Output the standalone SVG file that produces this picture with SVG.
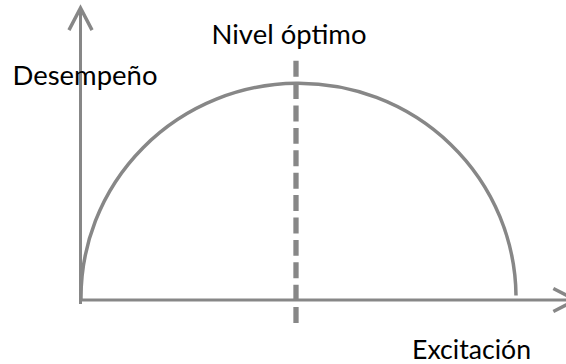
<svg xmlns="http://www.w3.org/2000/svg" width="566" height="364" viewBox="0 0 566 364">
  <style>
    .ax { stroke: #878787; stroke-width: 3; fill: none; }
    .curve { stroke: #878787; stroke-width: 3.5; fill: none; }
    .opt { stroke: #878787; stroke-width: 5.3; fill: none; stroke-dasharray: 15.95 6.45; }
    .lbl { font-family: Lato, "Open Sans", sans-serif; font-size: 26.5px; fill: #000; }
  </style>
  <defs>
    <marker id="chev" markerUnits="userSpaceOnUse" markerWidth="30" markerHeight="30" viewBox="-22 -13 26 26" refX="0" refY="0" orient="auto" overflow="visible">
      <path d="M -19.2 -10 L 0 0 L -19.2 10" fill="none" stroke="#878787" stroke-width="3"/>
    </marker>
  </defs>
  <g id="axes">
    <line id="y-axis" class="ax" x1="80.5" y1="304" x2="80.5" y2="8" marker-end="url(#chev)"/>
    <line id="x-axis" class="ax" x1="79" y1="300" x2="575.5" y2="300" marker-end="url(#chev)"/>
  </g>
  <g id="curve">
    <path class="curve" d="M 81 300 A 217.5 214.5 0 0 1 516 295.5"/>
  </g>
  <g id="optimum">
    <line class="opt" x1="296" y1="60.7" x2="296" y2="323"/>
  </g>
  <g id="labels">
    <text class="lbl" x="211.5" y="44.3" textLength="155" lengthAdjust="spacingAndGlyphs">Nivel óptimo</text>
    <text class="lbl" x="12.5" y="85" textLength="145" lengthAdjust="spacingAndGlyphs">Desempeño</text>
    <text class="lbl" x="412" y="358.5" textLength="119" lengthAdjust="spacingAndGlyphs">Excitación</text>
  </g>
</svg>
